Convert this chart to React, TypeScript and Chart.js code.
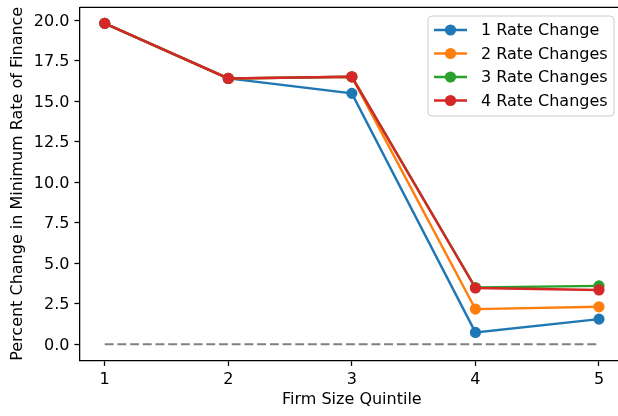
import { useEffect, useRef } from "react";
import { Chart, registerables } from "chart.js";

Chart.register(...registerables);

const quintiles = [1, 2, 3, 4, 5];
const oneRateChange = [19.8, 16.4, 15.48, 0.73, 1.55];
const twoRateChanges = [19.8, 16.4, 16.5, 2.17, 2.31];
const threeRateChanges = [19.8, 16.4, 16.5, 3.5, 3.6];
const fourRateChanges = [19.8, 16.4, 16.5, 3.47, 3.35];
const zeroLine = [0, 0, 0, 0, 0];
const seriesLabels = ["1 Rate Change", "2 Rate Changes", "3 Rate Changes", "4 Rate Changes"];
const seriesColors = ["#1f77b4", "#ff7f0e", "#2ca02c", "#d62728"];
const xTicks = [1, 2, 3, 4, 5];
const yTicks = [0, 2.5, 5, 7.5, 10, 12.5, 15, 17.5, 20];

const FONT = "'DejaVu Sans', sans-serif";
const CANVAS_W = 640;
const CANVAS_H = 416;

const toPoints = (ys: number[]) => quintiles.map((x, i) => ({ x, y: ys[i] }));

const framePlugin = {
  id: "frameAndLegend",
  afterDraw(chart: any) {
    const { ctx, chartArea } = chart;
    ctx.save();
    // top & right spines
    ctx.strokeStyle = "#000";
    ctx.lineWidth = 1.28;
    ctx.beginPath();
    ctx.moveTo(chartArea.left, chartArea.top);
    ctx.lineTo(chartArea.right, chartArea.top);
    ctx.lineTo(chartArea.right, chartArea.bottom);
    ctx.stroke();

    // legend
    const bx = 428, by = 16, bw = 186, bh = 100, r = 4;
    ctx.beginPath();
    ctx.moveTo(bx + r, by);
    ctx.lineTo(bx + bw - r, by);
    ctx.arcTo(bx + bw, by, bx + bw, by + r, r);
    ctx.lineTo(bx + bw, by + bh - r);
    ctx.arcTo(bx + bw, by + bh, bx + bw - r, by + bh, r);
    ctx.lineTo(bx + r, by + bh);
    ctx.arcTo(bx, by + bh, bx, by + bh - r, r);
    ctx.lineTo(bx, by + r);
    ctx.arcTo(bx, by, bx + r, by, r);
    ctx.closePath();
    ctx.fillStyle = "rgba(255,255,255,0.8)";
    ctx.fill();
    ctx.strokeStyle = "#cccccc";
    ctx.lineWidth = 1;
    ctx.stroke();

    ctx.font = `16px ${FONT}`;
    ctx.textBaseline = "middle";
    ctx.textAlign = "left";
    seriesLabels.forEach((label, i) => {
      const cy = 30 + i * 23.5;
      const color = seriesColors[i];
      ctx.strokeStyle = color;
      ctx.lineWidth = 2.4;
      ctx.beginPath();
      ctx.moveTo(434, cy);
      ctx.lineTo(467, cy);
      ctx.stroke();
      ctx.fillStyle = color;
      ctx.beginPath();
      ctx.arc(450.5, cy, 5.6, 0, Math.PI * 2);
      ctx.fill();
      ctx.fillStyle = "#000";
      ctx.fillText(label, 481, cy + 1);
    });
    ctx.restore();
  },
};

export default function App() {
  const ref = useRef<HTMLCanvasElement | null>(null);

  useEffect(() => {
    if (!ref.current) return;
    const seriesData = [oneRateChange, twoRateChanges, threeRateChanges, fourRateChanges];
    const datasets: any[] = seriesData.map((ys, i) => ({
      label: seriesLabels[i],
      data: toPoints(ys),
      borderColor: seriesColors[i],
      backgroundColor: seriesColors[i],
      pointBackgroundColor: seriesColors[i],
      pointBorderColor: seriesColors[i],
      pointBorderWidth: 1.6,
      pointRadius: 4.8,
      borderWidth: 2.4,
      tension: 0,
      order: 4 - i,
    }));
    datasets.push({
      label: "zero",
      data: toPoints(zeroLine),
      borderColor: "#808080",
      borderWidth: 2.2,
      borderDash: [8.9, 3.8],
      pointRadius: 0,
      tension: 0,
      order: 10,
    });

    const tickFont = { family: FONT, size: 16 };
    const chart = new Chart(ref.current, {
      type: "line",
      data: { datasets },
      plugins: [framePlugin],
      options: {
        responsive: false,
        animation: false,
        devicePixelRatio: 1,
        layout: { padding: { left: 0, right: CANVAS_W - 623.7, top: 7.3, bottom: 0 } },
        plugins: { legend: { display: false }, tooltip: { enabled: false } },
        scales: {
          x: {
            type: "linear",
            min: 0.8,
            max: 5.2,
            afterBuildTicks: (s: any) => {
              s.ticks = xTicks.map((v) => ({ value: v }));
            },
            afterFit: (s: any) => {
              s.height = CANVAS_H - 360.3;
              s.paddingLeft = 0;
              s.paddingRight = 0;
            },
            ticks: {
              callback: (v: any) => String(v),
              font: tickFont,
              color: "#000",
              padding: 4,
              maxRotation: 0,
            },
            grid: {
              drawOnChartArea: false,
              drawTicks: true,
              tickLength: 5.6,
              tickColor: "#000",
              tickWidth: 1.28,
            },
            border: { display: true, color: "#000", width: 1.28 },
            title: {
              display: true,
              text: "Firm Size Quintile",
              font: tickFont,
              color: "#000",
              padding: { top: 0, bottom: 7 },
            },
          },
          y: {
            type: "linear",
            min: -0.99,
            max: 20.79,
            afterBuildTicks: (s: any) => {
              s.ticks = yTicks.map((v) => ({ value: v }));
            },
            afterFit: (s: any) => {
              s.width = 80;
              s.paddingTop = 0;
              s.paddingBottom = 0;
            },
            ticks: {
              callback: (v: any) => Number(v).toFixed(1),
              font: tickFont,
              color: "#000",
              padding: 5,
              labelOffset: 1.5,
            },
            grid: {
              drawOnChartArea: false,
              drawTicks: true,
              tickLength: 5.6,
              tickColor: "#000",
              tickWidth: 1.28,
            },
            border: { display: true, color: "#000", width: 1.28 },
            title: {
              display: true,
              text: "Percent Change in Minimum Rate of Finance",
              font: tickFont,
              color: "#000",
              padding: { top: 8, bottom: 0 },
            },
          },
        },
      },
    } as any);
    return () => chart.destroy();
  }, []);

  return (
    <div
      style={{
        position: "fixed",
        left: 0,
        top: 0,
        width: 618,
        height: 416,
        overflow: "hidden",
        background: "#fff",
      }}
    >
      <canvas
        ref={ref}
        width={CANVAS_W}
        height={CANVAS_H}
        style={{ display: "block", width: CANVAS_W, height: CANVAS_H }}
      />
    </div>
  );
}
